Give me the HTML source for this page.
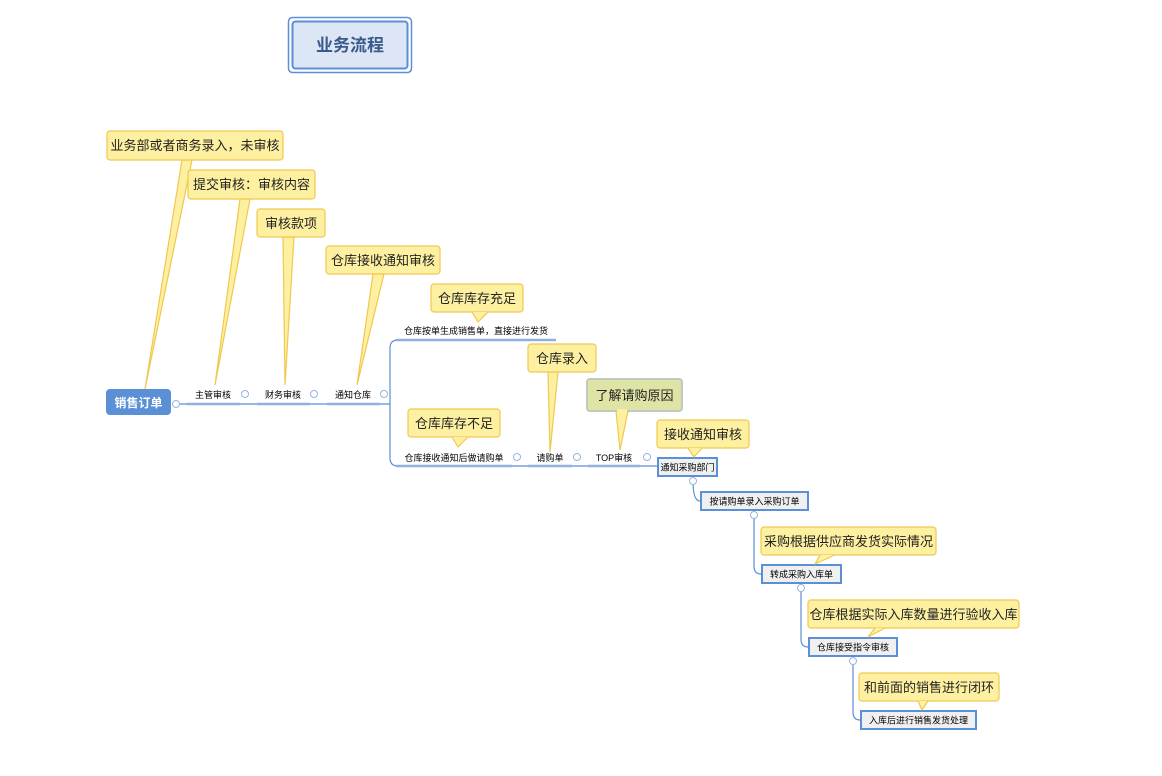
<!DOCTYPE html>
<html><head><meta charset="utf-8"><style>
html,body{margin:0;padding:0;background:#fff}
svg{display:block;font-family:"Liberation Sans","Noto Sans CJK SC",sans-serif}
</style></head><body>
<svg width="1162" height="776" viewBox="0 0 1162 776" xmlns="http://www.w3.org/2000/svg">
<!-- title -->
<rect x="288.5" y="17.5" width="123" height="55" rx="4" fill="#fff" stroke="#5b8fd6" stroke-width="1.5"/>
<rect x="292.5" y="21.5" width="115" height="47" rx="3" fill="#dce6f4" stroke="#5b8fd6" stroke-width="2"/>
<text x="350" y="51" font-size="17" font-weight="bold" fill="#3b5a8c" text-anchor="middle">业务流程</text>

<g fill="none" stroke="#5b8fd6" stroke-width="1.2">
<line x1="172" y1="404" x2="390" y2="404"/>
<path d="M390 404 L390 348 Q390 340 398 340 L556 340"/>
<path d="M390 404 L390 458 Q390 466 398 466 L657 466"/>
<path d="M693 481 Q693 501 700 501"/>
<path d="M754 515 L754 566 Q754 574 761 574"/>
<path d="M801 588 L801 639 Q801 647 808 647"/>
<path d="M853 661 L853 712 Q853 720 860 720"/>
</g>
<g stroke="#8fb0e0" stroke-width="2.5">
<line x1="187" y1="404" x2="240" y2="404"/>
<line x1="257" y1="404" x2="310" y2="404"/>
<line x1="327" y1="404" x2="380" y2="404"/>
<line x1="396" y1="340" x2="556" y2="340"/>
<line x1="396" y1="466" x2="512" y2="466"/>
<line x1="528" y1="466" x2="572" y2="466"/>
<line x1="588" y1="466" x2="640" y2="466"/>
</g>
<!-- collapse circles -->
<g fill="#fff" stroke="#9ab4dc" stroke-width="1">
<circle cx="176" cy="404" r="3.5"/><circle cx="245" cy="394" r="3.5"/><circle cx="314" cy="394" r="3.5"/><circle cx="384" cy="394" r="3.5"/>
<circle cx="517" cy="457" r="3.5"/><circle cx="577" cy="457" r="3.5"/><circle cx="647" cy="457" r="3.5"/>
<circle cx="693" cy="481" r="3.5"/><circle cx="754" cy="515" r="3.5"/><circle cx="801" cy="588" r="3.5"/><circle cx="853" cy="661" r="3.5"/>
</g>
<!-- root -->
<rect x="106" y="389" width="65" height="26" rx="4" fill="#5b8fd6"/>
<text x="138.5" y="407" font-size="12" font-weight="bold" fill="#fff" text-anchor="middle">销售订单</text>

<g font-size="9" fill="#000" text-anchor="middle">
<text x="213" y="398">主管审核</text>
<text x="283" y="398">财务审核</text>
<text x="353" y="398">通知仓库</text>
<text x="476" y="334">仓库按单生成销售单，直接进行发货</text>
<text x="454" y="461">仓库接收通知后做请购单</text>
<text x="550" y="461">请购单</text>
<text x="614" y="461">TOP审核</text>
</g>
<!-- boxed nodes -->
<g fill="#f0f0f0" stroke="#5b8fd6" stroke-width="2">
<rect x="658" y="458" width="59" height="18"/>
<rect x="701" y="492" width="107" height="18"/>
<rect x="762" y="565" width="79" height="18"/>
<rect x="809" y="638" width="88" height="18"/>
<rect x="861" y="711" width="115" height="18"/>
</g>
<g font-size="9" fill="#000" text-anchor="middle">
<text x="687.5" y="470.5">通知采购部门</text>
<text x="754.5" y="504.5">按请购单录入采购订单</text>
<text x="801.5" y="577.5">转成采购入库单</text>
<text x="853" y="650.5">仓库接受指令审核</text>
<text x="918.5" y="723.5">入库后进行销售发货处理</text>
</g>

<!-- callouts -->
<g fill="#fdf0a0" stroke="#f0c850" stroke-width="1.2">
<path d="M182 160 L145 389 L192 160 Z"/>
<path d="M240 199 L215 385 L250 199 Z"/>
<path d="M283 237 L285 385 L294 237 Z"/>
<path d="M373 274 L357 385 L384 274 Z"/>
<path d="M548 372 L550 452 L558 372 Z"/>
<path d="M616 411 L620 450 L628 411 Z"/>
<rect x="107" y="131" width="176" height="29" rx="3"/>
<rect x="188" y="170" width="127" height="29" rx="3"/>
<rect x="257" y="209" width="68" height="28" rx="3"/>
<rect x="326" y="246" width="114" height="28" rx="3"/>
<rect x="431" y="284" width="92" height="28" rx="3"/>
<rect x="528" y="344" width="68" height="28" rx="3"/>
<rect x="408" y="409" width="92" height="28" rx="3"/>
<rect x="657" y="420" width="92" height="28" rx="3"/>
<rect x="761" y="527" width="175" height="28" rx="3"/>
<rect x="808" y="600" width="211" height="28" rx="3"/>
<rect x="859" y="673" width="140" height="28" rx="3"/>
</g>
<rect x="587" y="379" width="95" height="32" rx="3" fill="#dfe3a6" stroke="#c0c8c0" stroke-width="2"/>
<g fill="#fdf0a0">
<rect x="617" y="409" width="10" height="3"/>
</g>
<g fill="#fdf0a0" stroke="#f0c850" stroke-width="1.2" stroke-linejoin="round">
<path d="M472 312 L478 322 L488 312"/>
<path d="M452 437 L458 447 L468 437"/>
<path d="M688 448 L694 457 L702 448"/>
<path d="M820 555 L815 564 L835 555"/>
<path d="M875 628 L868 637 L885 628"/>
<path d="M918 701 L922 710 L928 701"/>
</g>
<g font-size="13" fill="#222" text-anchor="middle">
<text x="195" y="150">业务部或者商务录入，未审核</text>
<text x="251.5" y="189">提交审核：审核内容</text>
<text x="291" y="228">审核款项</text>
<text x="383" y="265">仓库接收通知审核</text>
<text x="477" y="303">仓库库存充足</text>
<text x="562" y="363">仓库录入</text>
<text x="634.5" y="400">了解请购原因</text>
<text x="454" y="428">仓库库存不足</text>
<text x="703" y="439">接收通知审核</text>
<text x="848.5" y="546">采购根据供应商发货实际情况</text>
<text x="913.5" y="619">仓库根据实际入库数量进行验收入库</text>
<text x="929" y="692">和前面的销售进行闭环</text>
</g>
</svg>
</body></html>
